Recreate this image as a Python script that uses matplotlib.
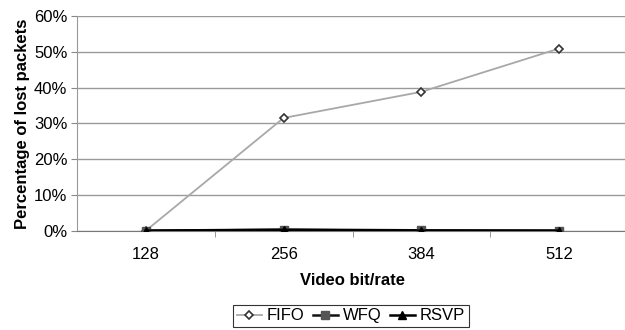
import numpy as np
import matplotlib.pyplot as plt
from matplotlib.ticker import FuncFormatter, FixedLocator

plt.rcParams['font.family'] = ['Liberation Sans', 'DejaVu Sans']

# Dados do gráfico
taxas = ["128", "256", "384", "512"]
fifo = [0.0, 31.5, 38.8, 50.9]
wfq = [0.0, 0.3, 0.1, 0.0]
rsvp = [0.0, 0.2, 0.0, 0.0]

x = np.arange(len(taxas))

fig = plt.figure(figsize=(6.25, 3.3), dpi=100)
ax = fig.add_axes([0.1232, 0.301, 0.8816, 0.6506])

ax.plot(x, fifo, color="#a8a8a8", lw=1.3, marker="D", ms=4.5,
        mfc="white", mec="#333333", mew=1.2, label="FIFO", zorder=3)
ax.plot(x, wfq, color="#111111", lw=1.8, marker="s", ms=6,
        mfc="#555555", mec="#555555", label="WFQ", zorder=4)
ax.plot(x, rsvp, color="#000000", lw=1.8, marker="^", ms=6,
        mfc="black", mec="black", label="RSVP", zorder=5)

# Eixos
ax.set_xlim(-0.5, 3.5)
ax.set_ylim(0, 60)
ax.set_yticks(np.arange(0, 61, 10))
ax.yaxis.set_major_formatter(FuncFormatter(lambda v, p: "%d%%" % v))
ax.set_xticks(x)
ax.set_xticklabels(taxas)
ax.xaxis.set_minor_locator(FixedLocator([0.5, 1.5, 2.5]))
ax.tick_params(axis="x", which="major", length=0, pad=12, labelsize=12)
ax.tick_params(axis="x", which="minor", length=4, direction="out", color="#888888")
ax.tick_params(axis="y", length=4, direction="out", color="#888888", labelsize=12, pad=3)

ax.grid(True, axis="y", color="#9a9a9a", lw=1)
ax.set_axisbelow(True)
for lado in ["top", "right"]:
    ax.spines[lado].set_visible(False)
ax.spines["left"].set_color("#999999")
ax.spines["bottom"].set_color("#777777")

ax.set_xlabel("Video bit/rate", fontsize=12, fontweight="bold", labelpad=8)
ax.set_ylabel("Percentage of lost packets", fontsize=12, fontweight="bold", labelpad=3)

leg = ax.legend(loc="upper center", bbox_to_anchor=(351 / 625, 25 / 330),
                bbox_transform=fig.transFigure, ncol=3, frameon=True,
                fancybox=False, edgecolor="black", fontsize=12,
                handlelength=1.5, handletextpad=0.3, columnspacing=0.5,
                borderpad=0.2, borderaxespad=0)
leg.get_frame().set_linewidth(0.8)

fig.savefig("out.png", dpi=100)
